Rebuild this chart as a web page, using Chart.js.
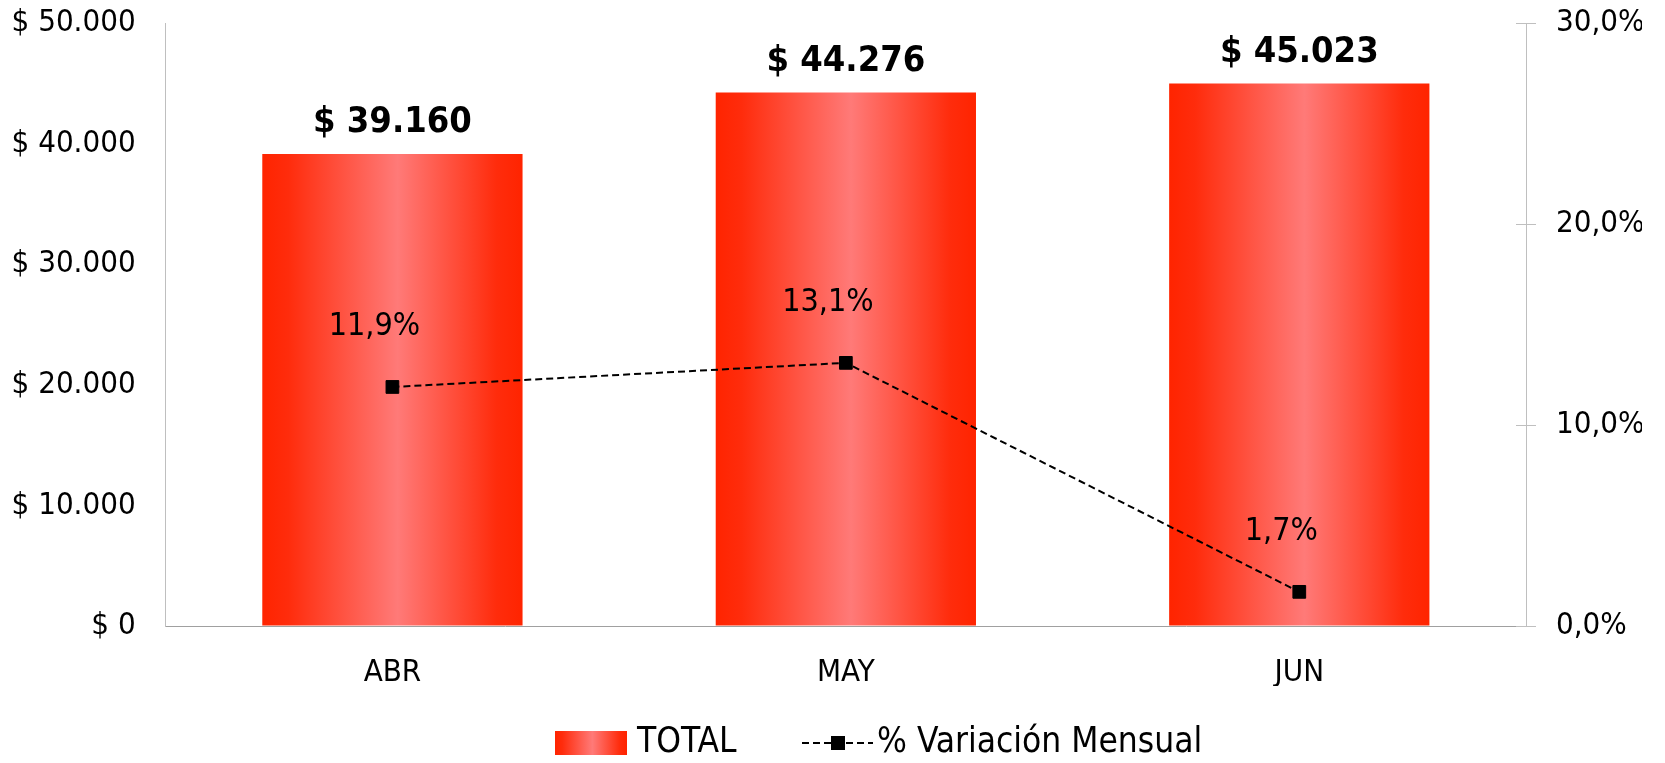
<!DOCTYPE html>
<html>
<head>
<meta charset="utf-8">
<script src="https://cdn.jsdelivr.net/npm/chart.js@4.4.1/dist/chart.umd.min.js"></script>
<style>
  html, body { margin: 0; padding: 0; background: #fff; }
  #wrap { width: 1665px; height: 763px; }
</style>
</head>
<body>
<div id="wrap"><canvas id="chart-one" width="1665" height="763"></canvas></div>
<script>
const months = ['ABR', 'MAY', 'JUN'];
const totals = [39160, 44276, 45023];
const variation = [11.9, 13.1, 1.7];
const leftTicks = ['$ 0', '$ 10.000', '$ 20.000', '$ 30.000', '$ 40.000', '$ 50.000'];
const rightTicks = ['0,0%', '10,0%', '20,0%', '30,0%'];
const seriesNames = ['TOTAL', '% Variación Mensual'];

const FONT = '"DejaVu Sans Condensed", "DejaVu Sans", sans-serif';

function money(v) {
    return '$ ' + String(v).replace(/\B(?=(\d{3})+(?!\d))/g, '.');
}
function pct(v) {
    return v.toFixed(1).replace('.', ',') + '%';
}

function redGradient(ctx, x0, x1) {
    const g = ctx.createLinearGradient(x0, 0, x1, 0);
    g.addColorStop(0, '#ff2400');
    g.addColorStop(0.1, '#ff2c0c');
    g.addColorStop(0.52, '#ff7a78');
    g.addColorStop(0.9, '#ff2c0c');
    g.addColorStop(1, '#ff2400');
    return g;
}

const BAR_PCT = 0.574;

// etiquetas de valores encima de barras y puntos
const valueLabels = {
    id: 'valueLabels',
    afterDatasetsDraw(chart) {
        const ctx = chart.ctx;
        const bars = chart.getDatasetMeta(0).data;
        const pts = chart.getDatasetMeta(1).data;
        ctx.save();
        ctx.fillStyle = '#000';
        ctx.textAlign = 'center';
        ctx.textBaseline = 'middle';
        ctx.font = 'bold 36px ' + FONT;
        bars.forEach((bar, i) => ctx.fillText(money(totals[i]), bar.x, bar.y - 31));
        ctx.font = '32px ' + FONT;
        pts.forEach((pt, i) => ctx.fillText(pct(variation[i]), pt.x - 18, pt.y - 60));
        ctx.restore();
    }
};

// marcas del eje derecho (cruzadas) + leyenda
const extras = {
    id: 'extras',
    afterDraw(chart) {
        const ctx = chart.ctx;
        const y1 = chart.scales.y1;
        ctx.save();
        ctx.strokeStyle = '#bfbfbf';
        ctx.lineWidth = 1;
        y1.ticks.forEach(t => {
            const y = Math.round(y1.getPixelForValue(t.value)) + 0.5;
            ctx.beginPath();
            ctx.moveTo(y1.left - 10, y);
            ctx.lineTo(y1.left + 10, y);
            ctx.stroke();
        });

        // leyenda
        const cy = 743;
        ctx.fillStyle = redGradient(ctx, 555, 627);
        ctx.fillRect(555, 731, 72, 24);
        ctx.fillStyle = '#000';
        ctx.font = '35px ' + FONT;
        ctx.textAlign = 'left';
        ctx.textBaseline = 'middle';
        ctx.fillText(seriesNames[0], 637, cy);

        ctx.strokeStyle = '#000';
        ctx.lineWidth = 2;
        ctx.setLineDash([7, 4]);
        ctx.beginPath();
        ctx.moveTo(802, cy);
        ctx.lineTo(873, cy);
        ctx.stroke();
        ctx.setLineDash([]);
        ctx.fillRect(831, cy - 7, 14, 14);
        ctx.fillText(seriesNames[1], 877, cy);
        ctx.restore();
    }
};

const ctx = document.getElementById('chart-one');

const taskChart = new Chart(ctx, {
    data: {
        labels: months,
        datasets: [
            {
                type: 'bar',
                label: seriesNames[0],
                data: totals,
                yAxisID: 'y',
                order: 1,
                barPercentage: BAR_PCT,
                categoryPercentage: 1,
                backgroundColor: (c) => {
                    const chart = c.chart;
                    const xs = chart.scales.x;
                    if (!xs || c.dataIndex == null) return '#ff2400';
                    const cx = xs.getPixelForValue(c.dataIndex);
                    const w = xs.width / months.length * BAR_PCT;
                    if (!isFinite(cx) || !isFinite(w) || w <= 0) return '#ff2400';
                    return redGradient(chart.ctx, cx - w / 2, cx + w / 2);
                },
                borderWidth: 0
            },
            {
                type: 'line',
                label: seriesNames[1],
                data: variation,
                yAxisID: 'y1',
                order: 0,
                borderColor: '#000',
                borderWidth: 2,
                borderDash: [7, 4],
                tension: 0,
                pointStyle: 'rect',
                pointRadius: 9,
                pointBackgroundColor: '#000',
                pointBorderColor: '#000',
                pointBorderWidth: 1
            }
        ]
    },
    options: {
        responsive: false,
        animation: false,
        layout: { padding: { left: 11, right: 23, top: 23.4, bottom: 77 } },
        plugins: {
            legend: { display: false },
            tooltip: { enabled: false }
        },
        scales: {
            x: {
                grid: { display: false },
                border: { color: '#a0a0a0', width: 1 },
                ticks: { color: '#000', font: { family: FONT, size: 31 }, padding: 20 },
                afterFit: (s) => { s.height = 60; }
            },
            y: {
                position: 'left',
                min: 0, max: 50000,
                grid: { drawOnChartArea: false, tickLength: 30, tickColor: 'rgba(0,0,0,0)' },
                border: { color: '#bfbfbf', width: 1 },
                ticks: {
                    stepSize: 10000,
                    color: '#000',
                    padding: 0,
                    font: { family: FONT, size: 31 },
                    callback: (v, i) => leftTicks[i]
                },
                afterFit: (s) => { s.width = 154.7; }
            },
            y1: {
                position: 'right',
                min: 0, max: 30,
                grid: { drawOnChartArea: false, tickLength: 30, tickColor: 'rgba(0,0,0,0)' },
                border: { color: '#bfbfbf', width: 1 },
                ticks: {
                    stepSize: 10,
                    color: '#000',
                    padding: 0,
                    font: { family: FONT, size: 31 },
                    callback: (v, i) => rightTicks[i]
                },
                afterFit: (s) => { s.width = 116; }
            }
        }
    },
    plugins: [valueLabels, extras]
});
</script>
</body>
</html>
